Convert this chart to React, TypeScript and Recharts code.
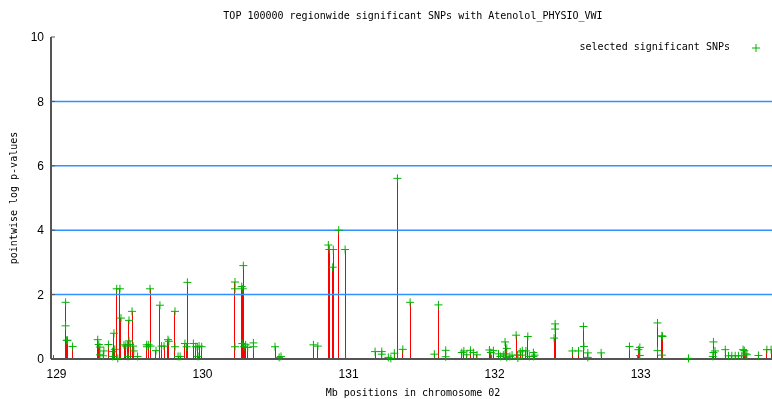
import React from "react";
import {
  ComposedChart,
  Bar,
  Scatter,
  XAxis,
  YAxis,
  ReferenceLine,
  Label,
} from "recharts";

// SNP positions (Mb on chromosome 02) and their pointwise -log10 p-values
const snpPos: number[] = [
  129.083, 129.083, 129.09, 129.096, 129.131, 129.303, 129.31, 129.318, 129.318, 129.341,
  129.345, 129.376, 129.405, 129.405, 129.414, 129.42, 129.433, 129.44, 129.455, 129.462,
  129.483, 129.495, 129.506, 129.51, 129.517, 129.517, 129.525, 129.538, 129.545, 129.55,
  129.576, 129.638, 129.64, 129.652, 129.661, 129.665, 129.702, 129.729, 129.74, 129.757,
  129.784, 129.79, 129.832, 129.832, 129.853, 129.867, 129.9, 129.917, 129.912, 129.958,
  129.974, 129.985, 129.99, 129.997, 130.015, 130.243, 130.243, 130.243, 130.289, 130.293,
  130.296, 130.3, 130.305, 130.316, 130.33, 130.369, 130.369, 130.517, 130.545, 130.558,
  130.78, 130.81, 130.882, 130.889, 130.912, 130.916, 130.953, 130.997, 131.202, 131.248,
  131.248, 131.293, 131.31, 131.334, 131.355, 131.392, 131.442, 131.608, 131.636, 131.686,
  131.686, 131.796, 131.81, 131.83, 131.855, 131.875, 131.9, 131.985, 131.995, 132.012,
  132.047, 132.06, 132.08, 132.092, 132.092, 132.104, 132.104, 132.125, 132.14, 132.168,
  132.178, 132.18, 132.196, 132.21, 132.21, 132.235, 132.248, 132.258, 132.286, 132.286,
  132.295, 132.428, 132.435, 132.435, 132.553, 132.595, 132.629, 132.632, 132.659, 132.659,
  132.75, 132.944, 133.005, 133.015, 133.015, 133.136, 133.136, 133.166, 133.17, 133.166,
  133.348, 133.519, 133.519, 133.515, 133.53, 133.6, 133.622, 133.645, 133.668, 133.69,
  133.713, 133.722, 133.73, 133.74, 133.748, 133.827, 133.885, 133.914,
];

const snpLogP: number[] = [
  1.76, 1.03, 0.58, 0.58, 0.39, 0.6, 0.45, 0.37, 0.13, 0.1,
  0.25, 0.45, 0.23, 0.08, 0.8, 0.3, 2.18, 0.02, 2.18, 1.27,
  0.44, 0.4, 0.44, 0.08, 1.2, 0.56, 0.45, 1.48, 0.4, 0.25,
  0.08, 0.44, 0.38, 0.44, 2.18, 0.4, 0.26, 1.67, 0.4, 0.4,
  0.6, 0.55, 1.48, 0.38, 0.08, 0.08, 0.48, 2.38, 0.38, 0.48,
  0.38, 0.38, 0.08, 0.4, 0.38, 2.39, 2.18, 0.38, 2.25, 0.48,
  2.18, 2.9, 0.38, 0.44, 0.36, 0.5, 0.38, 0.38, 0.05, 0.08,
  0.44, 0.4, 3.54, 3.4, 2.85, 3.4, 4.0, 3.4, 0.23, 0.23,
  0.15, 0.05, 0.02, 0.18, 5.61, 0.3, 1.76, 0.15, 1.68, 0.27,
  0.07, 0.2, 0.25, 0.13, 0.27, 0.2, 0.13, 0.28, 0.2, 0.26,
  0.16, 0.08, 0.12, 0.53, 0.16, 0.33, 0.05, 0.08, 0.12, 0.74,
  0.12, 0.03, 0.22, 0.26, 0.12, 0.25, 0.7, 0.08, 0.2, 0.08,
  0.12, 0.65, 1.09, 0.93, 0.25, 0.25, 1.01, 0.39, 0.19, 0.05,
  0.19, 0.39, 0.29, 0.36, 0.11, 1.12, 0.26, 0.72, 0.7, 0.12,
  0.02, 0.53, 0.2, 0.08, 0.25, 0.29, 0.1, 0.1, 0.1, 0.1,
  0.1, 0.29, 0.26, 0.16, 0.13, 0.11, 0.29, 0.29,
];

const xTicks = [129, 130, 131, 132, 133];
const yTicks = [0, 2, 4, 6, 8, 10];
const gridLevels = [2, 4, 6, 8];

const title = "TOP 100000 regionwide significant SNPs with Atenolol_PHYSIO_VWI";
const xTitle = "Mb positions in chromosome 02";
const yTitle = "pointwise log p-values";
const legendLabel = "selected significant SNPs";

const data = snpPos.map((pos, i) => ({ pos, p: snpLogP[i] }));

const mono = "'DejaVu Sans Mono', monospace";
const sans = "'Liberation Sans', Arial, sans-serif";
const axisGray = "#555555";
const plusGreen = "#00b400";

const PlusMark = (props: any) => {
  const { cx, cy } = props;
  if (cx == null || cy == null) return null;
  return (
    <g>
      <line x1={cx - 4} x2={cx + 4} y1={cy} y2={cy} stroke={plusGreen} strokeWidth={1} />
      <line x1={cx} x2={cx} y1={cy - 4} y2={cy + 4} stroke={plusGreen} strokeWidth={1} />
    </g>
  );
};

// impulse: a crisp 1px red line at the bar's centre
const Impulse = (props: any) => {
  const { x, y, width, height } = props;
  if (x == null || y == null || !height) return null;
  const cx = Math.floor(x + width / 2);
  return <rect x={cx} y={y} width={1} height={height} fill="#ff0000" />;
};

export default function App() {
  return (
    <div style={{ position: "fixed", left: 0, top: 0, width: 772, height: 399, background: "#fff" }}>
      <div
        style={{
          position: "absolute",
          top: 10,
          left: 0,
          width: 826,
          textAlign: "center",
          fontFamily: mono,
          fontSize: 10,
          color: "#000",
        }}
      >
        {title}
      </div>
      <ComposedChart
        width={772}
        height={399}
        data={data}
        margin={{ top: 37, right: 0, bottom: 0, left: 0 }}
      >
        <XAxis
          xAxisId="top"
          orientation="top"
          dataKey="pos"
          type="number"
          domain={[128.983, 133.92]}
          allowDataOverflow
          ticks={xTicks}
          height={0}
          tickSize={-4}
          tickFormatter={() => ""}
          axisLine={{ stroke: axisGray, strokeWidth: 1 }}
          tickLine={{ stroke: axisGray }}
        />
        <XAxis
          dataKey="pos"
          type="number"
          domain={[128.983, 133.92]}
          allowDataOverflow
          ticks={xTicks}
          height={40}
          tickSize={-4}
          tickMargin={14}
          axisLine={{ stroke: axisGray, strokeWidth: 2 }}
          tickLine={{ stroke: axisGray }}
          tick={{ fill: "#000", fontFamily: sans, fontSize: 12, dx: 3 }}
        >
          <Label
            content={() => (
              <text x={413} y={396} textAnchor="middle" fontFamily={mono} fontSize={10} fill="#000">
                {xTitle}
              </text>
            )}
          />
        </XAxis>
        <YAxis
          type="number"
          domain={[0, 10]}
          ticks={yTicks}
          width={51}
          tickSize={-4}
          tickMargin={11}
          axisLine={{ stroke: axisGray, strokeWidth: 2 }}
          tickLine={{ stroke: axisGray }}
          tick={{ fill: "#000", fontFamily: sans, fontSize: 12 }}
        >
          <Label
            content={() => (
              <text
                x={17}
                y={198}
                transform="rotate(-90 17 198)"
                textAnchor="middle"
                fontFamily={mono}
                fontSize={10}
                fill="#000"
              >
                {yTitle}
              </text>
            )}
          />
        </YAxis>
        <Bar dataKey="p" fill="#ff0000" barSize={1} shape={Impulse} isAnimationActive={false} />
        {gridLevels.map((g) => (
          <ReferenceLine key={g} y={g} stroke="#3090ff" strokeWidth={1.5} />
        ))}
        <Scatter dataKey="p" shape={PlusMark} isAnimationActive={false} />
      </ComposedChart>
      <div
        style={{
          position: "absolute",
          top: 41,
          right: 42,
          fontFamily: mono,
          fontSize: 10,
          color: "#000",
        }}
      >
        {legendLabel}
      </div>
      <svg style={{ position: "absolute", left: 750, top: 42 }} width={12} height={12}>
        <PlusMark cx={6} cy={6} />
      </svg>
    </div>
  );
}
